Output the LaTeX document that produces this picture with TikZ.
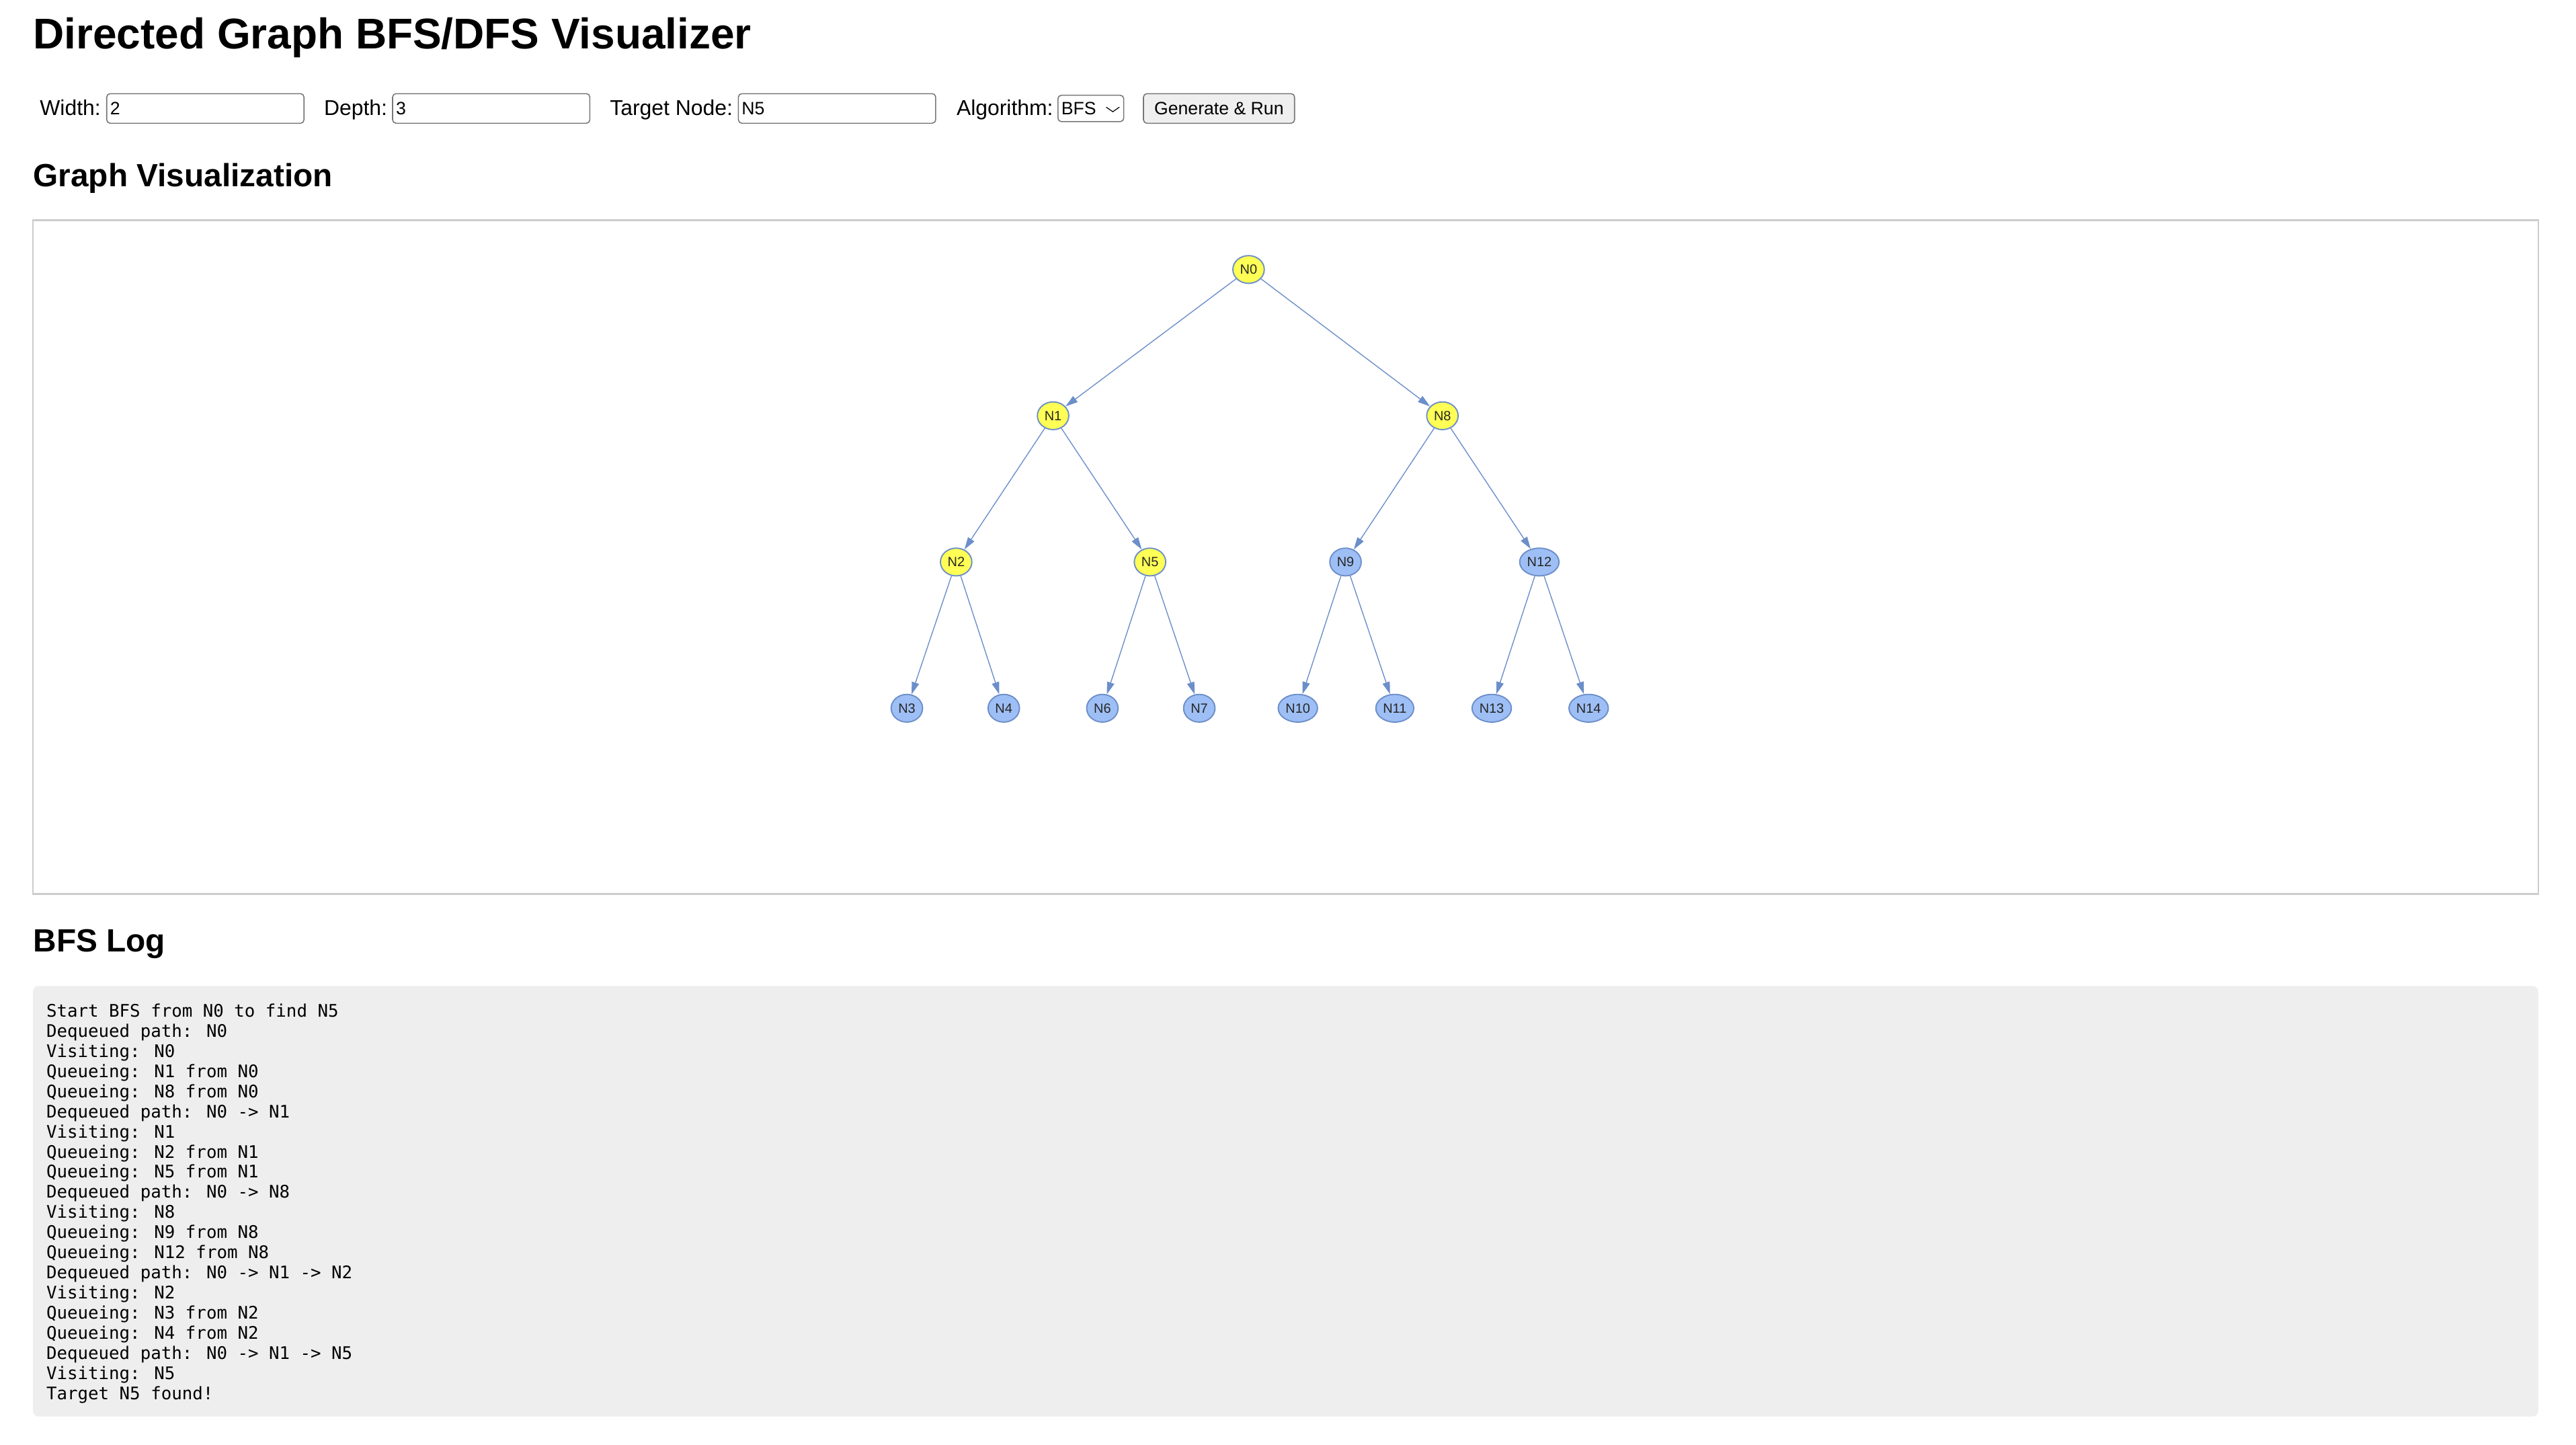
\documentclass[tikz,border=0pt]{standalone}
\usepackage{fontspec}
\setmainfont{Liberation Sans}
\newfontfamily\logfont{DejaVu Sans Mono}
\usepackage{xcolor}
\usetikzlibrary{arrows.meta,positioning,shapes.geometric,calc}
\definecolor{visityellow}{HTML}{FFFF55}
\definecolor{waitblue}{HTML}{9EBFF5}
\definecolor{linkblue}{HTML}{6C8EC9}
\definecolor{framegray}{HTML}{CCCCCC}
\definecolor{loggray}{HTML}{EEEEEE}
\definecolor{inputgray}{HTML}{767676}
\definecolor{buttongray}{HTML}{EFEFEF}
\tikzset{
  pagetitle/.style={anchor=base west,inner sep=0pt,font=\bfseries\fontsize{18.6pt}{22pt}\selectfont},
  heading/.style={anchor=base west,inner sep=0pt,font=\bfseries\fontsize{13.9pt}{16pt}\selectfont},
  fieldname/.style={anchor=base west,inner sep=0pt,font=\fontsize{9.28pt}{11pt}\selectfont},
  inputbox/.style={draw=inputgray,line width=0.45pt,rounded corners=1.5pt,minimum width=85.4pt,minimum height=12.8pt,inner sep=0pt},
  fieldvalue/.style={anchor=west,inner sep=0pt,font=\fontsize{7.75pt}{9pt}\selectfont},
  selectbox/.style={inputbox,minimum width=28.5pt,minimum height=11.4pt},
  runbutton/.style={inputbox,fill=buttongray,minimum width=65.4pt,font=\fontsize{7.75pt}{9pt}\selectfont},
  gnode/.style={draw=linkblue,ellipse,line width=0.55pt,minimum width=13.6pt,minimum height=12pt,inner sep=0.7pt,text=black!85,font=\fontsize{5.8pt}{7pt}\selectfont},
  visited/.style={gnode,fill=visityellow},
  waiting/.style={gnode,fill=waitblue},
  link/.style={-{Triangle[length=5.3pt,width=3.2pt]},draw=linkblue,line width=0.4pt},
  logtext/.style={anchor=north west,inner sep=0pt,align=left,font=\logfont\fontsize{7.5pt}{8.72pt}\selectfont}
}
\begin{document}
\begin{tikzpicture}[x=0.025cm,y=-0.025cm]
  \useasboundingbox (0,0) rectangle (1568,879);
  \node (title) [pagetitle] at (20,29.5) {Directed Graph BFS/DFS Visualizer};

  % form row
  \node (widthlbl) [fieldname] at (24,70) {Width:};
  \node (widthbox) [inputbox] at (125,66) {};
  \node (widthval) [fieldvalue,right=1.5pt of widthbox.west] {2};
  \node (depthlbl) [fieldname] at (197,70) {Depth:};
  \node (depthbox) [inputbox] at (299,66) {};
  \node (depthval) [fieldvalue,right=1.5pt of depthbox.west] {3};
  \node (targetlbl) [fieldname] at (371,70) {Target Node:};
  \node (targetbox) [inputbox] at (509.5,66) {};
  \node (targetval) [fieldvalue,right=1.5pt of targetbox.west] {N5};
  \node (algolbl) [fieldname] at (582,70) {Algorithm:};
  \node (algobox) [selectbox] at (664,66) {};
  \node (algoval) [fieldvalue,right=1.5pt of algobox.west] {BFS};
  \draw[black,line width=0.35pt] ($(algobox.east)+(-11,-0.8)$) -- ($(algobox.east)+(-7,2)$) -- ($(algobox.east)+(-3,-0.8)$);
  \node (runbtn) [runbutton] at (742,66) {Generate \& Run};

  % graph
  \node (graphhead) [heading] at (20,113.5) {Graph Visualization};
  \draw[framegray,line width=0.6pt] (20,134) rectangle (1545,544);

  \node (n0) [visited] at (760,164) {N0};
  \node (n1) [visited] at (641,253) {N1};
  \node (n8) [visited] at (878,253) {N8};
  \node (n2) [visited] at (582,342) {N2};
  \node (n5) [visited] at (700,342) {N5};
  \node (n9) [waiting] at (819,342) {N9};
  \node (n12) [waiting] at (937,342) {N12};
  \node (n3) [waiting] at (552,431) {N3};
  \node (n4) [waiting] at (611,431) {N4};
  \node (n6) [waiting] at (671,431) {N6};
  \node (n7) [waiting] at (730,431) {N7};
  \node (n10) [waiting] at (790,431) {N10};
  \node (n11) [waiting] at (849,431) {N11};
  \node (n13) [waiting] at (908,431) {N13};
  \node (n14) [waiting] at (967,431) {N14};

  \draw[link] (n0) -- (n1);
  \draw[link] (n0) -- (n8);
  \draw[link] (n1) -- (n2);
  \draw[link] (n1) -- (n5);
  \draw[link] (n8) -- (n9);
  \draw[link] (n8) -- (n12);
  \draw[link] (n2) -- (n3);
  \draw[link] (n2) -- (n4);
  \draw[link] (n5) -- (n6);
  \draw[link] (n5) -- (n7);
  \draw[link] (n9) -- (n10);
  \draw[link] (n9) -- (n11);
  \draw[link] (n12) -- (n13);
  \draw[link] (n12) -- (n14);

  % log
  \node (loghead) [heading] at (20,579) {BFS Log};
  \fill[loggray,rounded corners=2.4pt] (20,600) rectangle (1545,862);
  \node (log) [logtext] at (28,610.5) {Start BFS from N0 to find N5\\
Dequeued path: N0\\
Visiting: N0\\
Queueing: N1 from N0\\
Queueing: N8 from N0\\
Dequeued path: N0 -> N1\\
Visiting: N1\\
Queueing: N2 from N1\\
Queueing: N5 from N1\\
Dequeued path: N0 -> N8\\
Visiting: N8\\
Queueing: N9 from N8\\
Queueing: N12 from N8\\
Dequeued path: N0 -> N1 -> N2\\
Visiting: N2\\
Queueing: N3 from N2\\
Queueing: N4 from N2\\
Dequeued path: N0 -> N1 -> N5\\
Visiting: N5\\
Target N5 found!};
\end{tikzpicture}
\end{document}
